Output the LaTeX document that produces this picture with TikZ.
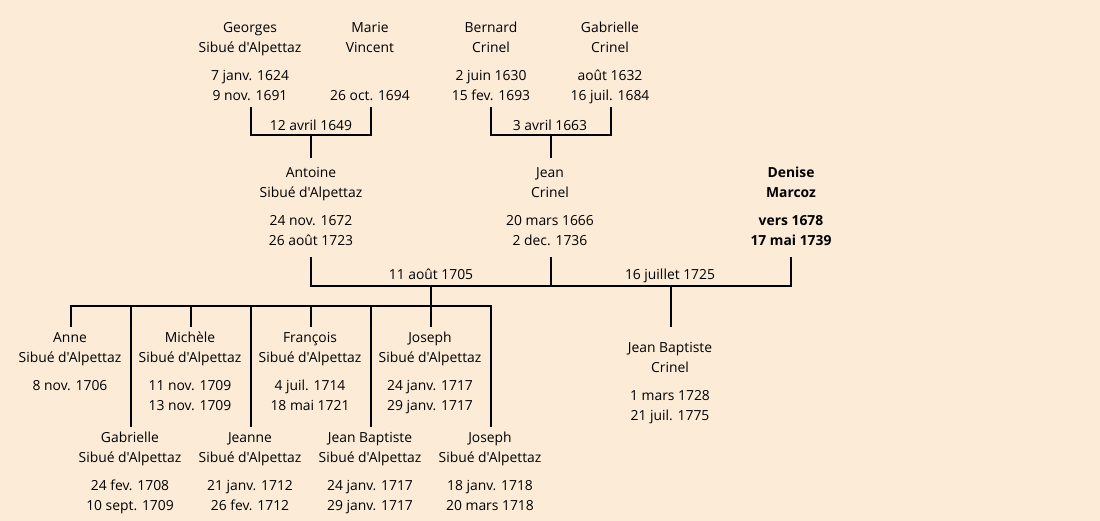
\documentclass[tikz,border=0pt]{standalone}
\usepackage{fontspec}
\setmainfont{Open Sans}[Ligatures=TeXOff]
\definecolor{bg}{HTML}{FBEBD7}
\tikzset{
  txt/.style={align=center, inner sep=0pt, yshift=-0.75pt, font=\fontsize{10.4}{15}\selectfont},
  bold/.style={txt, font=\fontsize{10.4}{15}\selectfont\bfseries},
  lbl/.style={inner sep=0pt, yshift=-0.75pt, font=\fontsize{10.4}{15}\selectfont},
  link/.style={line width=1.5pt, line cap=rect}
}
\begin{document}
\begin{tikzpicture}[x=0.75pt,y=-0.75pt]
\fill[bg] (0,0) rectangle (1100,521);
\useasboundingbox (0,0) rectangle (1100,521);
% generation 1
\node[txt] (georgesN) at (250,37) {\strut Georges\\Sibué d'Alpettaz\strut};
\node[txt] (georgesD) at (250,85) {\strut 7 janv. 1624\\9 nov. 1691\strut};
\node[txt] (marieN) at (370,37) {\strut Marie\\Vincent\strut};
\node[txt] (marieD) at (370,85) {\strut\\26 oct. 1694\strut};
\node[txt] (bernardN) at (491,37) {\strut Bernard\\Crinel\strut};
\node[txt] (bernardD) at (491,85) {\strut 2 juin 1630\\15 fev. 1693\strut};
\node[txt] (gabrN) at (610,37) {\strut Gabrielle\\Crinel\strut};
\node[txt] (gabrD) at (610,85) {\strut août 1632\\16 juil. 1684\strut};
% generation 2
\node[txt] (antoineN) at (311,182) {\strut Antoine\\Sibué d'Alpettaz\strut};
\node[txt] (antoineD) at (311,230) {\strut 24 nov. 1672\\26 août 1723\strut};
\node[txt] (jeanN) at (550,182) {\strut Jean\\Crinel\strut};
\node[txt] (jeanD) at (550,230) {\strut 20 mars 1666\\2 dec. 1736\strut};
\node[bold] (deniseN) at (791,182) {\strut Denise\\Marcoz\strut};
\node[bold] (deniseD) at (791,230) {\strut vers 1678\\17 mai 1739\strut};
% generation 3
\node[txt] (anneN) at (70,347) {\strut Anne\\Sibué d'Alpettaz\strut};
\node[txt] (anneD) at (70,385) {\strut 8 nov. 1706\strut};
\node[txt] (micheleN) at (190,347) {\strut Michèle\\Sibué d'Alpettaz\strut};
\node[txt] (micheleD) at (190,395) {\strut 11 nov. 1709\\13 nov. 1709\strut};
\node[txt] (francoisN) at (310,347) {\strut François\\Sibué d'Alpettaz\strut};
\node[txt] (francoisD) at (310,395) {\strut 4 juil. 1714\\18 mai 1721\strut};
\node[txt] (joseph1N) at (430,347) {\strut Joseph\\Sibué d'Alpettaz\strut};
\node[txt] (joseph1D) at (430,395) {\strut 24 janv. 1717\\29 janv. 1717\strut};
\node[txt] (gabrielleN) at (130,447) {\strut Gabrielle\\Sibué d'Alpettaz\strut};
\node[txt] (gabrielleD) at (130,495) {\strut 24 fev. 1708\\10 sept. 1709\strut};
\node[txt] (jeanneN) at (250,447) {\strut Jeanne\\Sibué d'Alpettaz\strut};
\node[txt] (jeanneD) at (250,495) {\strut 21 janv. 1712\\26 fev. 1712\strut};
\node[txt] (jbN) at (370,447) {\strut Jean Baptiste\\Sibué d'Alpettaz\strut};
\node[txt] (jbD) at (370,495) {\strut 24 janv. 1717\\29 janv. 1717\strut};
\node[txt] (joseph2N) at (490,447) {\strut Joseph\\Sibué d'Alpettaz\strut};
\node[txt] (joseph2D) at (490,495) {\strut 18 janv. 1718\\20 mars 1718\strut};
\node[txt] (jbcN) at (670,357) {\strut Jean Baptiste\\Crinel\strut};
\node[txt] (jbcD) at (670,405) {\strut 1 mars 1728\\21 juil. 1775\strut};
% marriage labels
\node[lbl] (m1) at (311,125) {\strut 12 avril 1649};
\node[lbl] (m2) at (550,125) {\strut 3 avril 1663};
\node[lbl] (m3) at (431,274) {\strut 11 août 1705};
\node[lbl] (m4) at (670,274) {\strut 16 juillet 1725};
% coordinates
\coordinate (g1) at (251,108);
\coordinate (g2) at (371,108);
\coordinate (g3) at (311,135);
\coordinate (b1) at (491,108);
\coordinate (b2) at (611,108);
\coordinate (b3) at (551,135);
\coordinate (a1) at (311,258);
\coordinate (j1) at (551,258);
\coordinate (d1) at (791,258);
\coordinate (mbar) at (431,286);
\coordinate (mbar2) at (671,286);
\coordinate (cbar) at (431,306);
\coordinate (g3e) at (311,157);
\coordinate (b3e) at (551,157);
\coordinate (jbce) at (671,326);
% connectors
\draw[link] (g1) |- (g3) -| (g2);
\draw[link] (g3) -- (g3e);
\draw[link] (b1) |- (b3) -| (b2);
\draw[link] (b3) -- (b3e);
\draw[link] (a1) |- (mbar) -| (d1);
\draw[link] (j1) -- (j1 |- mbar);
\draw[link] (mbar) -- (cbar);
\draw[link] (mbar2) -- (jbce);
\draw[link] (cbar) -| (71,326);
\draw[link] (cbar) -| (491,426);
\draw[link] (131,306) -- (131,426);
\draw[link] (191,306) -- (191,326);
\draw[link] (251,306) -- (251,426);
\draw[link] (311,306) -- (311,326);
\draw[link] (371,306) -- (371,426);
\draw[link] (431,306) -- (431,326);
\end{tikzpicture}
\end{document}
